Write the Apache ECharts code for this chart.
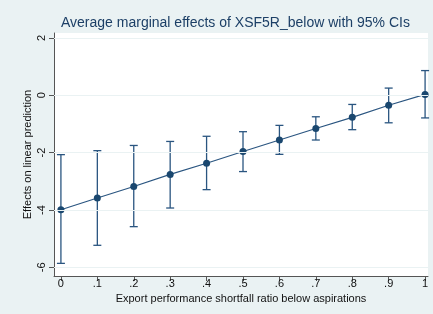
<!DOCTYPE html>
<html>
<head>
<meta charset="utf-8">
<script src="https://cdn.jsdelivr.net/npm/echarts@6/dist/echarts.min.js"></script>
<style>
  html, body { margin: 0; padding: 0; background: #eaf2f3; }
  #chart { width: 433px; height: 314px; }
</style>
</head>
<body>
<div id="chart"></div>
<script>
// values
const xValues = [0, 0.1, 0.2, 0.3, 0.4, 0.5, 0.6, 0.7, 0.8, 0.9, 1];
const effect  = [-3.99, -3.58, -3.18, -2.76, -2.37, -1.96, -1.56, -1.16, -0.77, -0.35, 0.03];
const ciUpper = [-2.07, -1.93, -1.75, -1.61, -1.43, -1.27, -1.05, -0.75, -0.32, 0.25, 0.86];
const ciLower = [-5.86, -5.23, -4.58, -3.93, -3.29, -2.66, -2.06, -1.56, -1.20, -0.96, -0.79];
const xTicks = [0, 0.1, 0.2, 0.3, 0.4, 0.5, 0.6, 0.7, 0.8, 0.9, 1];
const yTicks = [-6, -4, -2, 0, 2];

const navy = '#1a476f';

function fmtX(v) {
  if (v === 0 || v === 1) return String(v);
  return String(Math.round(v * 10) / 10).replace(/^0/, '');
}

let chart = echarts.init(document.getElementById('chart'));
chart.setOption({
  backgroundColor: '#eaf2f3',
  animation: false,
  title: {
    text: 'Average marginal effects of XSF5R_below with 95% CIs',
    left: 56,
    top: 11,
    textStyle: { fontFamily: 'Liberation Sans, Arial', fontSize: 14, fontWeight: 'normal', color: '#1c3f66' }
  },
  grid: {
    left: 54, right: 5, top: 33, bottom: 38,
    show: true, backgroundColor: '#ffffff', borderWidth: 0
  },
  xAxis: {
    type: 'value',
    min: -0.019, max: 1.008,
    name: 'Export performance shortfall ratio below aspirations',
    nameLocation: 'middle',
    nameGap: 16,
    nameTextStyle: { fontFamily: 'Liberation Sans, Arial', fontSize: 11, color: '#111' },
    axisLine: { show: true, onZero: false, lineStyle: { color: '#555', width: 1 } },
    axisTick: { show: true, length: 5, customValues: xTicks, lineStyle: { color: '#555' } },
    axisLabel: {
      customValues: xTicks, formatter: fmtX, margin: 2,
      fontFamily: 'Liberation Sans, Arial', fontSize: 11, color: '#111'
    },
    splitLine: { show: false }
  },
  yAxis: {
    type: 'value',
    min: -6.3, max: 2.17,
    name: 'Effects on linear prediction',
    nameLocation: 'middle',
    nameRotate: 90,
    nameGap: 21,
    nameMoveOverlap: false,
    nameTextStyle: { fontFamily: 'Liberation Sans, Arial', fontSize: 11, color: '#111' },
    axisLine: { show: true, onZero: false, lineStyle: { color: '#555', width: 1 } },
    axisTick: { show: true, length: 5, customValues: yTicks, lineStyle: { color: '#555' } },
    axisLabel: {
      customValues: yTicks, rotate: 90, margin: 7,
      fontFamily: 'Liberation Sans, Arial', fontSize: 11, color: '#111'
    },
    splitLine: { show: false }
  },
  series: [
    {
      type: 'custom',
      z: 2,
      data: xValues.map((x, i) => [x, ciLower[i], ciUpper[i]]),
      renderItem: function (params, api) {
        const lo = api.coord([api.value(0), api.value(1)]);
        const hi = api.coord([api.value(0), api.value(2)]);
        const cap = 4;
        const style = { stroke: '#2a5580', lineWidth: 1.3 };
        return {
          type: 'group',
          children: [
            { type: 'line', shape: { x1: lo[0], y1: lo[1], x2: hi[0], y2: hi[1] }, style: style },
            { type: 'line', shape: { x1: lo[0] - cap, y1: lo[1], x2: lo[0] + cap, y2: lo[1] }, style: style },
            { type: 'line', shape: { x1: hi[0] - cap, y1: hi[1], x2: hi[0] + cap, y2: hi[1] }, style: style }
          ]
        };
      }
    },
    {
      type: 'line',
      z: 3,
      data: xValues.map((x, i) => [x, effect[i]]),
      symbol: 'circle',
      symbolSize: 7,
      lineStyle: { color: '#2a5580', width: 1.2 },
      itemStyle: { color: navy },
      markLine: {
        silent: true,
        symbol: 'none',
        label: { show: false },
        lineStyle: { color: '#eaf2f3', width: 1, type: 'solid' },
        data: yTicks.map(v => ({ yAxis: v }))
      }
    }
  ]
});
window.addEventListener('resize', function () {
  chart.resize();
});
</script>
</body>
</html>
